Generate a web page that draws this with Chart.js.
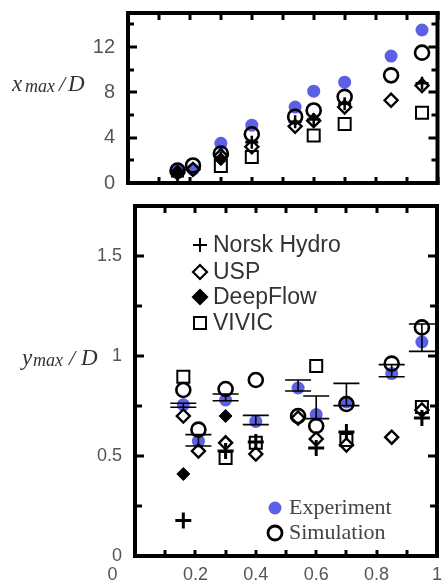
<!DOCTYPE html>
<html>
<head>
<meta charset="utf-8">
<script src="https://cdn.jsdelivr.net/npm/chart.js@4.4.1/dist/chart.umd.min.js"></script>
<style>
  html, body { margin: 0; padding: 0; background: #fff; }
  #wrap { position: relative; width: 448px; height: 586px; }
  #topChart { position: absolute; left: 0; top: 0; }
  #bottomChart { position: absolute; left: 0; top: 195px; }
</style>
</head>
<body>
<div id="wrap">
  <canvas id="topChart" width="448" height="195"></canvas>
  <canvas id="bottomChart" width="448" height="391"></canvas>
</div>
<script>
// Shared abscissa of every case
const xPos = [0.16, 0.21, 0.30, 0.40, 0.54, 0.60, 0.70, 0.85, 0.95];

// Upper panel: x_max / D
const xmaxExperiment = [1.1, 1.2, 3.5, 5.1, 6.7, 8.1, 8.9, 11.2, 13.5];
const xmaxSimulation = [1.1, 1.55, 2.6, 4.3, 5.85, 6.4, 7.6, 9.5, 11.5];
const xmaxNorsk      = [0.6, null, 2.2, 3.6, 5.4, 5.6, 7.0, null, 8.8];
const xmaxUSP        = [0.9, 1.2, 2.4, 3.2, 5.0, 5.5, 6.7, 7.3, 8.6];
const xmaxDeepFlow   = [1.0, null, 2.1, null, null, null, null, null, null];
const xmaxVIVIC      = [null, null, 1.5, 2.3, null, 4.2, 5.2, null, 6.2];

// Lower panel: y_max / D
const ymaxExperiment = [0.756, 0.574, 0.78, 0.673, 0.84, 0.707, 0.77, 0.912, 1.07];
const ymaxErrLow     = [0.744, 0.55, 0.776, 0.657, 0.825, 0.687, 0.752, 0.896, 1.023];
const ymaxErrHigh    = [0.764, 0.607, 0.81, 0.703, 0.88, 0.80, 0.863, 0.957, 1.16];
const ymaxSimulation = [0.83, 0.632, 0.835, 0.88, 0.70, 0.65, 0.76, 0.962, 1.143];
const ymaxNorsk      = [0.178, null, 0.525, 0.57, null, 0.54, 0.62, null, 0.69];
const ymaxUSP        = [0.70, 0.525, 0.566, 0.51, 0.69, 0.585, 0.555, 0.594, 0.73];
const ymaxDeepFlow   = [0.41, null, 0.70, null, null, null, null, null, null];
const ymaxVIVIC      = [0.896, null, 0.49, 0.566, null, 0.95, 0.58, null, 0.745];

// Axis ticks
const xTicks = [0, 0.1, 0.2, 0.3, 0.4, 0.5, 0.6, 0.7, 0.8, 0.9, 1];
const xLabels = [0, 0.2, 0.4, 0.6, 0.8, 1];
const xmaxTicks = [0, 2, 4, 6, 8, 10, 12, 14];
const xmaxLabels = [0, 4, 8, 12];
const ymaxTicks = [0, 0.25, 0.5, 0.75, 1, 1.25, 1.5, 1.75];
const ymaxLabels = [0, 0.5, 1, 1.5];

// Legend entries
const modelNames = ['Norsk Hydro', 'USP', 'DeepFlow', 'VIVIC'];
const refNames = ['Experiment', 'Simulation'];

const BLUE = 'rgb(92,96,228)';
const NONE = 'rgba(0,0,0,0)';
const SANS = "'Liberation Sans', Arial, sans-serif";
const SERIF = "'Liberation Serif', 'Times New Roman', serif";

Chart.defaults.font.family = SANS;

function pts(arr) {
  return xPos.map((x, i) => ({ x, y: arr[i] })).filter(p => p.y !== null);
}
function has(list, v) {
  return list.some(l => Math.abs(l - v) < 1e-9);
}
function fmt(v) {
  return String(Math.round(v * 100) / 100);
}

// Inward tick marks on all four sides plus the heavy frame
const innerTicks = {
  id: 'innerTicks',
  afterDraw(chart, args, cfg) {
    const ctx = chart.ctx;
    const a = chart.chartArea;
    const sx = chart.scales.x, sy = chart.scales.y;
    ctx.save();
    ctx.globalAlpha = 1;
    ctx.fillStyle = '#000';
    xTicks.forEach(v => {
      const px = Math.round(sx.getPixelForValue(v));
      ctx.fillRect(px - 1.5, a.bottom - cfg.xLenBottom, 3, cfg.xLenBottom);
      ctx.fillRect(px - 1.5, a.top, 3, cfg.xLenTop);
    });
    cfg.yTicks.forEach(v => {
      const py = Math.round(sy.getPixelForValue(v));
      const len = has(cfg.yLabels, v) ? cfg.yMajor : cfg.yMinor;
      ctx.fillRect(a.left, py - 1.5, len, 3);
      ctx.fillRect(a.right - len, py - 1.5, len, 3);
    });
    const w = 4;
    ctx.fillRect(a.left - w / 2, a.top - w / 2, a.right - a.left + w, w);
    ctx.fillRect(a.left - w / 2, a.bottom - w / 2, a.right - a.left + w, w);
    ctx.fillRect(a.left - w / 2, a.top - w / 2, w, a.bottom - a.top + w);
    ctx.fillRect(a.right - w / 2, a.top - w / 2, w, a.bottom - a.top + w);
    ctx.restore();
  }
};

// Italic axis title with a subscript
const axisTitle = {
  id: 'axisTitle',
  afterDraw(chart, args, cfg) {
    const ctx = chart.ctx;
    ctx.save();
    ctx.fillStyle = '#333';
    ctx.textBaseline = 'alphabetic';
    ctx.textAlign = 'left';
    cfg.parts.forEach(p => {
      ctx.font = 'italic ' + p.size + 'px ' + SERIF;
      ctx.fillText(p.text, p.x, cfg.baseline + (p.dy || 0));
    });
    ctx.restore();
  }
};

// Experimental scatter bars
const errorBars = {
  id: 'errorBars',
  afterDatasetsDraw(chart) {
    const { ctx, scales: { x, y } } = chart;
    ctx.save();
    ctx.strokeStyle = '#000';
    ctx.lineWidth = 1.6;
    ctx.beginPath();
    xPos.forEach((v, i) => {
      const px = x.getPixelForValue(v);
      const lo = y.getPixelForValue(ymaxErrLow[i]);
      const hi = y.getPixelForValue(ymaxErrHigh[i]);
      ctx.moveTo(px, lo); ctx.lineTo(px, hi);
      ctx.moveTo(px - 13, lo); ctx.lineTo(px + 13, lo);
      ctx.moveTo(px - 13, hi); ctx.lineTo(px + 13, hi);
    });
    ctx.stroke();
    ctx.restore();
  }
};

function marker(ctx, kind, x, y) {
  ctx.beginPath();
  ctx.strokeStyle = '#000';
  ctx.fillStyle = '#000';
  if (kind === 'cross') {
    ctx.lineWidth = 2;
    ctx.moveTo(x - 7, y); ctx.lineTo(x + 7, y);
    ctx.moveTo(x, y - 7); ctx.lineTo(x, y + 7);
    ctx.stroke();
  } else if (kind === 'diamond' || kind === 'fdiamond') {
    ctx.lineWidth = 2.2;
    ctx.moveTo(x - 7, y); ctx.lineTo(x, y - 7); ctx.lineTo(x + 7, y); ctx.lineTo(x, y + 7);
    ctx.closePath();
    if (kind === 'fdiamond') ctx.fill();
    ctx.stroke();
  } else if (kind === 'square') {
    ctx.lineWidth = 2;
    ctx.rect(x - 6, y - 6, 12, 12);
    ctx.stroke();
  } else if (kind === 'blue') {
    ctx.fillStyle = BLUE;
    ctx.arc(x, y, 6.5, 0, Math.PI * 2);
    ctx.fill();
  } else if (kind === 'ring') {
    ctx.lineWidth = 2.8;
    ctx.arc(x, y, 7, 0, Math.PI * 2);
    ctx.stroke();
  }
}

// Legends drawn inside the lower panel
const panelLegend = {
  id: 'panelLegend',
  afterDraw(chart) {
    const ctx = chart.ctx;
    ctx.save();
    const kinds = ['cross', 'diamond', 'fdiamond', 'square'];
    const rows = [50, 77, 102, 128];
    ctx.textBaseline = 'middle';
    ctx.textAlign = 'left';
    modelNames.forEach((n, i) => {
      marker(ctx, kinds[i], 200, rows[i]);
      ctx.fillStyle = '#333';
      ctx.font = '23px ' + SANS;
      ctx.fillText(n, 213, rows[i] + 1);
    });
    const rows2 = [313, 338];
    const kinds2 = ['blue', 'ring'];
    refNames.forEach((n, i) => {
      marker(ctx, kinds2[i], 275, rows2[i]);
      ctx.fillStyle = '#444';
      ctx.font = '22px ' + SERIF;
      ctx.fillText(n, 289, rows2[i]);
    });
    ctx.restore();
  }
};

function datasets(sim, norsk, usp, deep, vivic, exp, big) {
  return [
    { label: 'Simulation', data: pts(sim), pointStyle: 'circle', pointRadius: 7,
      pointBackgroundColor: NONE, pointBorderColor: '#000', pointBorderWidth: 2.6 },
    { label: 'Norsk Hydro', data: pts(norsk), pointStyle: 'cross', pointRadius: big ? 8 : 6.5,
      pointBorderColor: '#000', pointBorderWidth: big ? 3 : 2.5 },
    { label: 'USP', data: pts(usp), pointStyle: 'rectRot', pointRadius: 6.5,
      pointBackgroundColor: NONE, pointBorderColor: '#000', pointBorderWidth: 2.4 },
    { label: 'DeepFlow', data: pts(deep), pointStyle: 'rectRot', pointRadius: 6.5,
      pointBackgroundColor: '#000', pointBorderColor: '#000', pointBorderWidth: 1 },
    { label: 'VIVIC', data: pts(vivic), pointStyle: 'rect', pointRadius: 8.5,
      pointBackgroundColor: NONE, pointBorderColor: '#000', pointBorderWidth: 2 },
    { label: 'Experiment', data: pts(exp), pointStyle: 'circle', pointRadius: 6.5,
      pointBackgroundColor: BLUE, pointBorderColor: BLUE, pointBorderWidth: 0 }
  ].map(d => Object.assign({ showLine: false }, d));
}

// Label overhang must not shrink the plotting box
function noOverhang(s) {
  s.paddingLeft = 0; s.paddingRight = 0; s.paddingTop = 0; s.paddingBottom = 0;
}

// The origin label sits left of its tick; trailing blanks push the glyph over
function xLabel(v) {
  if (!has(xLabels, v)) return '';
  return v === 0 ? '0' + ' '.repeat(9) : fmt(v);
}

function xScale(showLabels, height, padding) {
  return {
    type: 'linear', min: 0, max: 1,
    grid: { display: false, drawTicks: false },
    border: { display: false },
    afterBuildTicks(s) { s.ticks = xTicks.map(v => ({ value: v })); },
    afterFit(s) { s.height = height; noOverhang(s); },
    ticks: {
      display: showLabels,
      padding: padding,
      autoSkip: false,
      maxRotation: 0,
      color: '#555',
      font: { size: 18, family: SANS },
      callback: xLabel
    }
  };
}

function yScale(max, ticks, labels, width, size, padding) {
  return {
    type: 'linear', min: 0, max: max,
    grid: { display: false, drawTicks: false },
    border: { display: false },
    afterBuildTicks(s) { s.ticks = ticks.map(v => ({ value: v })); },
    afterFit(s) { s.width = width; noOverhang(s); },
    ticks: {
      padding: padding,
      autoSkip: false,
      color: '#555',
      font: { size: size, family: SANS },
      callback: v => has(labels, v) ? fmt(v) : ''
    }
  };
}

new Chart(document.getElementById('topChart'), {
  type: 'scatter',
  data: { datasets: datasets(xmaxSimulation, xmaxNorsk, xmaxUSP, xmaxDeepFlow, xmaxVIVIC, xmaxExperiment, false) },
  options: {
    responsive: false,
    animation: false,
    layout: { padding: { top: 13, right: 1, left: 0, bottom: 0 } },
    plugins: {
      legend: { display: false },
      tooltip: { enabled: false },
      innerTicks: { xLenTop: 7, xLenBottom: 6, yMajor: 9, yMinor: 6, yTicks: xmaxTicks, yLabels: xmaxLabels },
      axisTitle: {
        baseline: 91,
        parts: [
          { text: 'x', x: 12, size: 23 },
          { text: 'max', x: 25, size: 18, dy: 1 },
          { text: '/', x: 59, size: 22 },
          { text: 'D', x: 68, size: 23 }
        ]
      }
    },
    scales: {
      x: xScale(false, 12, 0),
      y: yScale(15, xmaxTicks, xmaxLabels, 128, 20, 13)
    }
  },
  plugins: [innerTicks, axisTitle]
});

new Chart(document.getElementById('bottomChart'), {
  type: 'scatter',
  data: { datasets: datasets(ymaxSimulation, ymaxNorsk, ymaxUSP, ymaxDeepFlow, ymaxVIVIC, ymaxExperiment, true) },
  options: {
    responsive: false,
    animation: false,
    layout: { padding: { top: 7, right: 5, left: 0, bottom: 0 } },
    plugins: {
      legend: { display: false },
      tooltip: { enabled: false },
      innerTicks: { xLenTop: 7, xLenBottom: 6, yMajor: 9, yMinor: 7, yTicks: ymaxTicks, yLabels: ymaxLabels },
      axisTitle: {
        baseline: 170,
        parts: [
          { text: 'y', x: 22, size: 23 },
          { text: 'max', x: 33, size: 18, dy: 1 },
          { text: '/', x: 69, size: 22 },
          { text: 'D', x: 81, size: 23 }
        ]
      }
    },
    scales: {
      x: xScale(true, 30, 8),
      y: yScale(1.75, ymaxTicks, ymaxLabels, 135, 18, 13)
    }
  },
  plugins: [errorBars, innerTicks, axisTitle, panelLegend]
});
</script>
</body>
</html>
